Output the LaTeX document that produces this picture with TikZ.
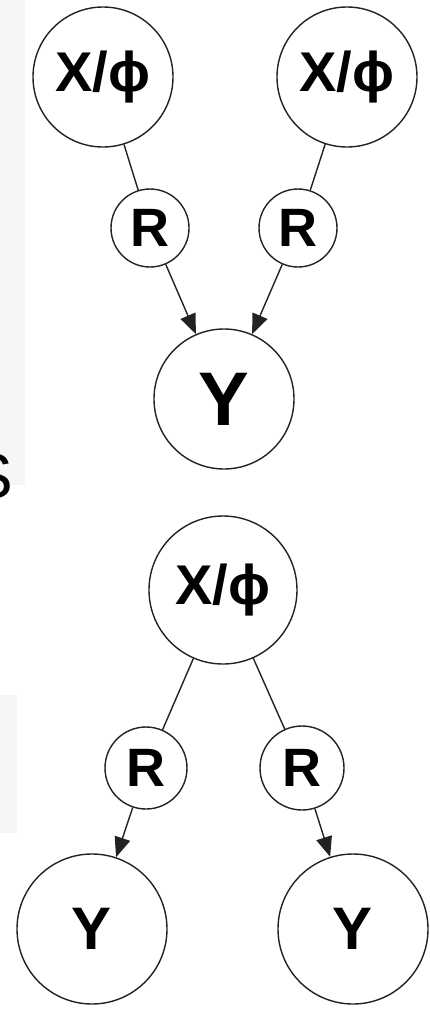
\documentclass[tikz,border=0pt]{standalone}
\usepackage{fontspec}
\setmainfont{Liberation Sans}
\usepackage{tikz}
\usetikzlibrary{arrows.meta}
\definecolor{edgeGray}{HTML}{222222}
\definecolor{shadeGray}{HTML}{F6F6F6}
\tikzset{
  var/.style={
    circle, draw=edgeGray, line width=1.4pt, fill=white,
    inner sep=0pt, font=\bfseries
  },
  big nd/.style={var, minimum size=140pt, font=\fontsize{56}{66}\bfseries},
  rho nd/.style={var, minimum size=78pt, font=\fontsize{54}{64}\bfseries},
  out nd/.style={var, minimum size=140pt, font=\fontsize{76}{88}\bfseries},
  link/.style={line width=1.4pt, draw=edgeGray},
  arr/.style={link, -{Triangle[length=20pt,width=16pt]}}
}

\begin{document}
\begin{tikzpicture}[x=1pt, y=-1pt]
  \useasboundingbox (0,0) rectangle (429,1009);
  \fill[white] (0,0) rectangle (429,1009);

  % faint page shading at the left edge
  \fill[shadeGray] (0,0) rectangle (25,485);
  \fill[shadeGray] (0,695) rectangle (17,833);
  \node[anchor=base east, inner sep=0pt, font=\fontsize{64}{72}\selectfont]
    (cut) at (13,498) {S};

  % upper graph: two sources, one outcome
  \node[big nd] (xa) at (103,77) {X/ϕ};
  \node[big nd] (xb) at (347,77) {X/ϕ};
  \node[rho nd] (ra) at (150,228) {R};
  \node[rho nd] (rb) at (298,228) {R};
  \node[out nd] (y) at (224,399) {Y};

  \draw[link] (xa) -- (ra);
  \draw[link] (xb) -- (rb);
  \draw[arr] (ra) -- (y);
  \draw[arr] (rb) -- (y);

  % lower graph: one source, two outcomes
  \node[big nd, minimum size=148pt] (xc) at (223,590) {X/ϕ};
  \node[rho nd, minimum size=82pt] (rc) at (146,768) {R};
  \node[rho nd, minimum size=84pt] (rd) at (302,768) {R};
  \node[out nd, minimum size=150pt, font=\fontsize{60}{70}\bfseries] (ya) at (92,929) {Y};
  \node[out nd, minimum size=150pt, font=\fontsize{60}{70}\bfseries] (yb) at (353,929) {Y};

  \draw[link] (xc) -- (rc);
  \draw[link] (xc) -- (rd);
  \draw[arr] (rc) -- (ya);
  \draw[arr] (rd) -- (yb);
\end{tikzpicture}
\end{document}
